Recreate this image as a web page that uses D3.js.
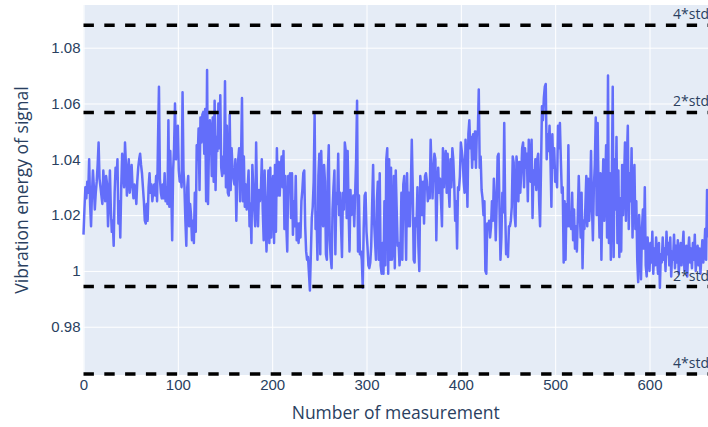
<!DOCTYPE html>
<html>
<head>
<meta charset="utf-8">
<script src="https://cdn.jsdelivr.net/npm/d3@7/dist/d3.min.js"></script>
<style>
    html, body { margin: 0; padding: 0; background: #fff; }
    svg { display: block; font-family: "Open Sans", verdana, arial, sans-serif; }
    .bg { fill: #e5ecf6; }
    .axis .domain { display: none; }
    .axis line { stroke: #fff; stroke-width: 1; }
    .axis text { fill: #2a3f5f; font-size: 15px; }
    .caption { fill: #2a3f5f; font-size: 17.5px; }
    .line { fill: none; stroke: #636efa; stroke-width: 2.5; stroke-linejoin: round; }
    .std-line { stroke: #000; stroke-width: 3.5; stroke-dasharray: 10.4,10.4; }
    .std-label { fill: #2a3f5f; font-size: 14px; }
</style>
</head>
<body>
<div id="chart"></div>
<script>

var energy = [
    1.013, 1.022, 1.030, 1.026, 1.032, 1.028, 1.040, 1.024, 1.016, 1.028,
    1.036, 1.030, 1.022, 1.028, 1.032, 1.038, 1.046, 1.033, 1.030, 1.027,
    1.024, 1.036, 1.030, 1.025, 1.034, 1.031, 1.016, 1.025, 1.036, 1.022,
    1.014, 1.018, 1.009, 1.028, 1.037, 1.033, 1.040, 1.017, 1.025, 1.012,
    1.030, 1.042, 1.036, 1.030, 1.046, 1.038, 1.027, 1.035, 1.040, 1.028,
    1.033, 1.038, 1.030, 1.026, 1.031, 1.029, 1.024, 1.032, 1.037, 1.040,
    1.042, 1.038, 1.035, 1.030, 1.025, 1.018, 1.017, 1.024, 1.018, 1.030,
    1.035, 1.028, 1.031, 1.025, 1.029, 1.031, 1.027, 1.034, 1.025, 1.047,
    1.066, 1.033, 1.028, 1.026, 1.031, 1.026, 1.035, 1.025, 1.030, 1.024,
    1.054, 1.023, 1.043, 1.030, 1.011, 1.036, 1.044, 1.060, 1.040, 1.046,
    1.052, 1.036, 1.032, 1.034, 1.030, 1.064, 1.036, 1.030, 1.018, 1.009,
    1.030, 1.034, 1.016, 1.024, 1.020, 1.011, 1.018, 1.010, 1.028, 1.014,
    1.045, 1.040, 1.051, 1.029, 1.055, 1.046, 1.056, 1.057, 1.042, 1.058,
    1.025, 1.072, 1.024, 1.045, 1.054, 1.050, 1.034, 1.055, 1.032, 1.061,
    1.029, 1.048, 1.043, 1.060, 1.044, 1.063, 1.037, 1.034, 1.041, 1.035,
    1.068, 1.030, 1.052, 1.028, 1.027, 1.056, 1.029, 1.044, 1.037, 1.033,
    1.031, 1.040, 1.018, 1.034, 1.040, 1.044, 1.025, 1.040, 1.062, 1.025,
    1.041, 1.023, 1.031, 1.022, 1.030, 1.036, 1.016, 1.024, 1.010, 1.038,
    1.030, 1.022, 1.016, 1.046, 1.025, 1.016, 1.029, 1.025, 1.028, 1.040,
    1.022, 1.011, 1.036, 1.019, 1.007, 1.024, 1.036, 1.010, 1.037, 1.012,
    1.030, 1.034, 1.010, 1.038, 1.014, 1.044, 1.027, 1.039, 1.027, 1.036,
    1.041, 1.030, 1.043, 1.015, 1.034, 1.016, 1.007, 1.034, 1.033, 1.035,
    1.019, 1.035, 1.013, 1.025, 1.016, 1.034, 1.011, 1.017, 1.010, 1.017,
    1.012, 1.025, 1.029, 1.035, 1.036, 1.016, 1.007, 1.004, 1.005, 0.999,
    0.993, 1.006, 1.019, 1.023, 1.032, 1.056, 1.015, 1.021, 1.004, 1.034,
    1.042, 1.006, 1.043, 1.028, 1.016, 1.038, 1.032, 1.006, 1.004, 1.035,
    1.045, 1.011, 1.005, 1.001, 1.022, 1.030, 1.036, 1.006, 1.028, 1.024,
    1.042, 1.020, 1.028, 1.016, 1.005, 1.028, 1.022, 1.046, 1.043, 1.019,
    1.043, 1.022, 1.007, 1.029, 1.020, 1.022, 1.027, 1.016, 1.028, 1.040,
    1.061, 1.007, 1.027, 1.006, 1.007, 1.004, 0.994, 1.015, 1.027, 1.028,
    1.014, 1.009, 1.002, 1.001, 1.003, 1.009, 1.024, 1.038, 1.018, 1.011,
    1.004, 1.025, 1.032, 1.004, 1.035, 1.002, 0.999, 1.010, 0.999, 1.025,
    1.002, 1.040, 1.044, 0.999, 1.040, 1.004, 1.037, 1.004, 1.009, 1.034,
    1.001, 1.036, 1.022, 1.009, 1.010, 1.002, 1.007, 1.028, 1.004, 1.031,
    1.034, 1.022, 1.004, 1.035, 1.016, 1.028, 1.016, 1.030, 1.047, 1.030,
    1.004, 1.003, 1.019, 1.016, 1.030, 1.009, 1.000, 1.034, 1.030, 1.020,
    1.032, 1.017, 1.034, 1.035, 1.032, 1.025, 1.030, 1.026, 1.047, 1.036,
    1.026, 1.036, 1.042, 1.040, 1.011, 1.030, 1.037, 1.028, 1.033, 1.025,
    1.016, 1.044, 1.030, 1.039, 1.043, 1.028, 1.042, 1.030, 1.023, 1.040,
    1.030, 1.044, 1.040, 1.031, 1.018, 1.025, 1.008, 1.030, 1.029, 1.034,
    1.046, 1.043, 1.040, 1.032, 1.028, 1.047, 1.038, 1.023, 1.049, 1.054,
    1.044, 1.048, 1.037, 1.049, 1.040, 1.050, 1.037, 1.050, 1.049, 1.065,
    1.037, 1.041, 1.029, 1.026, 1.020, 1.025, 1.000, 0.999, 1.017, 1.015,
    1.018, 1.012, 1.016, 1.025, 1.018, 1.033, 1.025, 1.011, 1.024, 1.041,
    1.042, 1.022, 1.004, 1.012, 1.028, 1.021, 1.053, 1.022, 1.006, 1.009,
    1.005, 1.016, 1.016, 1.018, 1.023, 1.041, 1.039, 1.020, 1.016, 1.041,
    1.037, 1.025, 1.039, 1.028, 1.035, 1.044, 1.046, 1.030, 1.044, 1.037,
    1.042, 1.025, 1.047, 1.040, 1.032, 1.047, 1.019, 1.036, 1.031, 1.040,
    1.029, 1.040, 1.042, 1.025, 1.016, 1.037, 1.059, 1.054, 1.062, 1.066,
    1.067, 1.040, 1.049, 1.043, 1.052, 1.040, 1.023, 1.049, 1.037, 1.044,
    1.032, 1.035, 1.030, 1.052, 1.044, 1.053, 1.040, 1.028, 1.030, 1.003,
    1.025, 1.004, 1.024, 1.016, 1.045, 1.016, 1.018, 1.015, 1.028, 1.011,
    1.022, 1.008, 1.016, 1.007, 1.020, 1.034, 1.022, 1.012, 1.028, 1.001,
    1.018, 1.015, 1.023, 1.034, 1.016, 1.033, 1.018, 1.025, 1.043, 1.023,
    1.011, 1.030, 1.038, 1.055, 1.020, 1.053, 1.028, 1.012, 1.035, 1.004,
    1.025, 1.040, 1.018, 1.030, 1.045, 1.012, 1.070, 1.010, 1.035, 1.004,
    1.030, 1.066, 1.005, 1.040, 1.022, 1.048, 1.010, 1.036, 1.005, 1.026,
    1.007, 1.038, 1.020, 1.032, 1.046, 1.018, 1.040, 1.052, 1.015, 1.035,
    1.025, 1.044, 1.012, 1.030, 1.038, 1.015, 1.025, 1.004, 0.996, 1.020,
    1.010, 0.997, 1.015, 1.022, 1.008, 1.030, 1.002, 0.998, 1.012, 1.005,
    1.000, 1.010, 1.003, 1.014, 0.999, 1.008, 1.002, 1.012, 1.005, 0.999,
    1.010, 0.994, 1.006, 1.003, 1.012, 1.004, 1.008, 1.000, 1.014, 1.006,
    1.010, 1.002, 1.012, 0.998, 1.007, 1.004, 1.013, 1.001, 1.009, 1.003,
    1.011, 0.999, 1.006, 1.010, 1.002, 1.008, 1.014, 1.000, 1.005, 1.009,
    0.998, 1.007, 1.012, 1.003, 1.008, 1.001, 1.010, 1.004, 1.013, 1.000,
    1.006, 1.009, 1.002, 1.008, 0.999, 1.005, 1.011, 1.003, 1.007, 1.015,
    1.004, 1.029, 1.012
];

// mean +/- 2 and 4 standard deviations
var stdLevels = [1.0880, 1.0568, 0.9944, 0.9631];
var stdLabels = ["4*std", "2*std", "2*std", "4*std"];

var xTicks = [0, 100, 200, 300, 400, 500, 600];
var yTicks = [0.98, 1, 1.02, 1.04, 1.06, 1.08];

var xTitle = "Number of measurement";
var yTitle = "Vibration energy of signal";


function chart() {

    var width = 708
        , height = 427
        , margin = {top: 5, right: 0, bottom: 52, left: 83.5}
        , xDomain = [0, 662]
        , yDomain = [0.9627, 1.0953]
        ;

    function my(selection) {
        selection.each(function() {

            var svg = d3.select(this)
                .append("svg")
                .attr("width", width)
                .attr("height", height);

            var w = width - margin.left - margin.right
                , h = height - margin.top - margin.bottom
                , g = svg.append("g")
                    .attr("transform", "translate(" + margin.left + "," + margin.top + ")");

            var x = d3.scaleLinear()
                .domain(xDomain)
                .range([0, w]);

            var y = d3.scaleLinear()
                .domain(yDomain)
                .range([h, 0]);

            g.append("rect")
                .attr("class", "bg")
                .attr("width", w)
                .attr("height", h);

            var xAxis = d3.axisBottom(x)
                .tickValues(xTicks)
                .tickSizeOuter(0)
                .tickSizeInner(-h)
                .tickPadding(4.5)
                .tickFormat(d3.format("d"));

            var yAxis = d3.axisLeft(y)
                .tickValues(yTicks)
                .tickSizeOuter(0)
                .tickSizeInner(-w)
                .tickPadding(3)
                .tickFormat(function(d) { return String(+d.toFixed(2)); });

            g.append("g")
                .attr("class", "axis axis--x")
                .attr("transform", "translate(0," + h + ")")
                .call(xAxis);

            g.append("g")
                .attr("class", "axis axis--y")
                .call(yAxis);

            var line = d3.line()
                .x(function(d, i) { return x(i); })
                .y(function(d) { return y(d); });

            g.append("path")
                .datum(energy)
                .attr("class", "line")
                .attr("d", line);

            // dashed std lines sit above the trace
            var std = g.selectAll(".std")
                .data(stdLevels)
                .enter()
                .append("g")
                .attr("class", "std");

            std.append("line")
                .attr("class", "std-line")
                .attr("x1", 0)
                .attr("x2", w)
                .attr("y1", function(d) { return y(d); })
                .attr("y2", function(d) { return y(d); });

            std.append("text")
                .attr("class", "std-label")
                .attr("text-anchor", "end")
                .attr("x", w + 1)
                .attr("y", function(d) { return y(d) - 6; })
                .text(function(d, i) { return stdLabels[i]; });

            svg.append("text")
                .attr("class", "caption")
                .attr("text-anchor", "middle")
                .attr("transform", "translate(" + (margin.left + w / 2) + ",419)")
                .text(xTitle);

            svg.append("text")
                .attr("class", "caption")
                .attr("text-anchor", "middle")
                .attr("transform", "translate(28," + (margin.top + h / 2) + ") rotate(-90)")
                .text(yTitle);
        });
    }

    my.width = function(value) {
        if (!arguments.length) return width;
        width = value;
        return my;
    };

    my.height = function(value) {
        if (!arguments.length) return height;
        height = value;
        return my;
    };

    return my;
}

d3.select("#chart").call(chart());

</script>
</body>
</html>
